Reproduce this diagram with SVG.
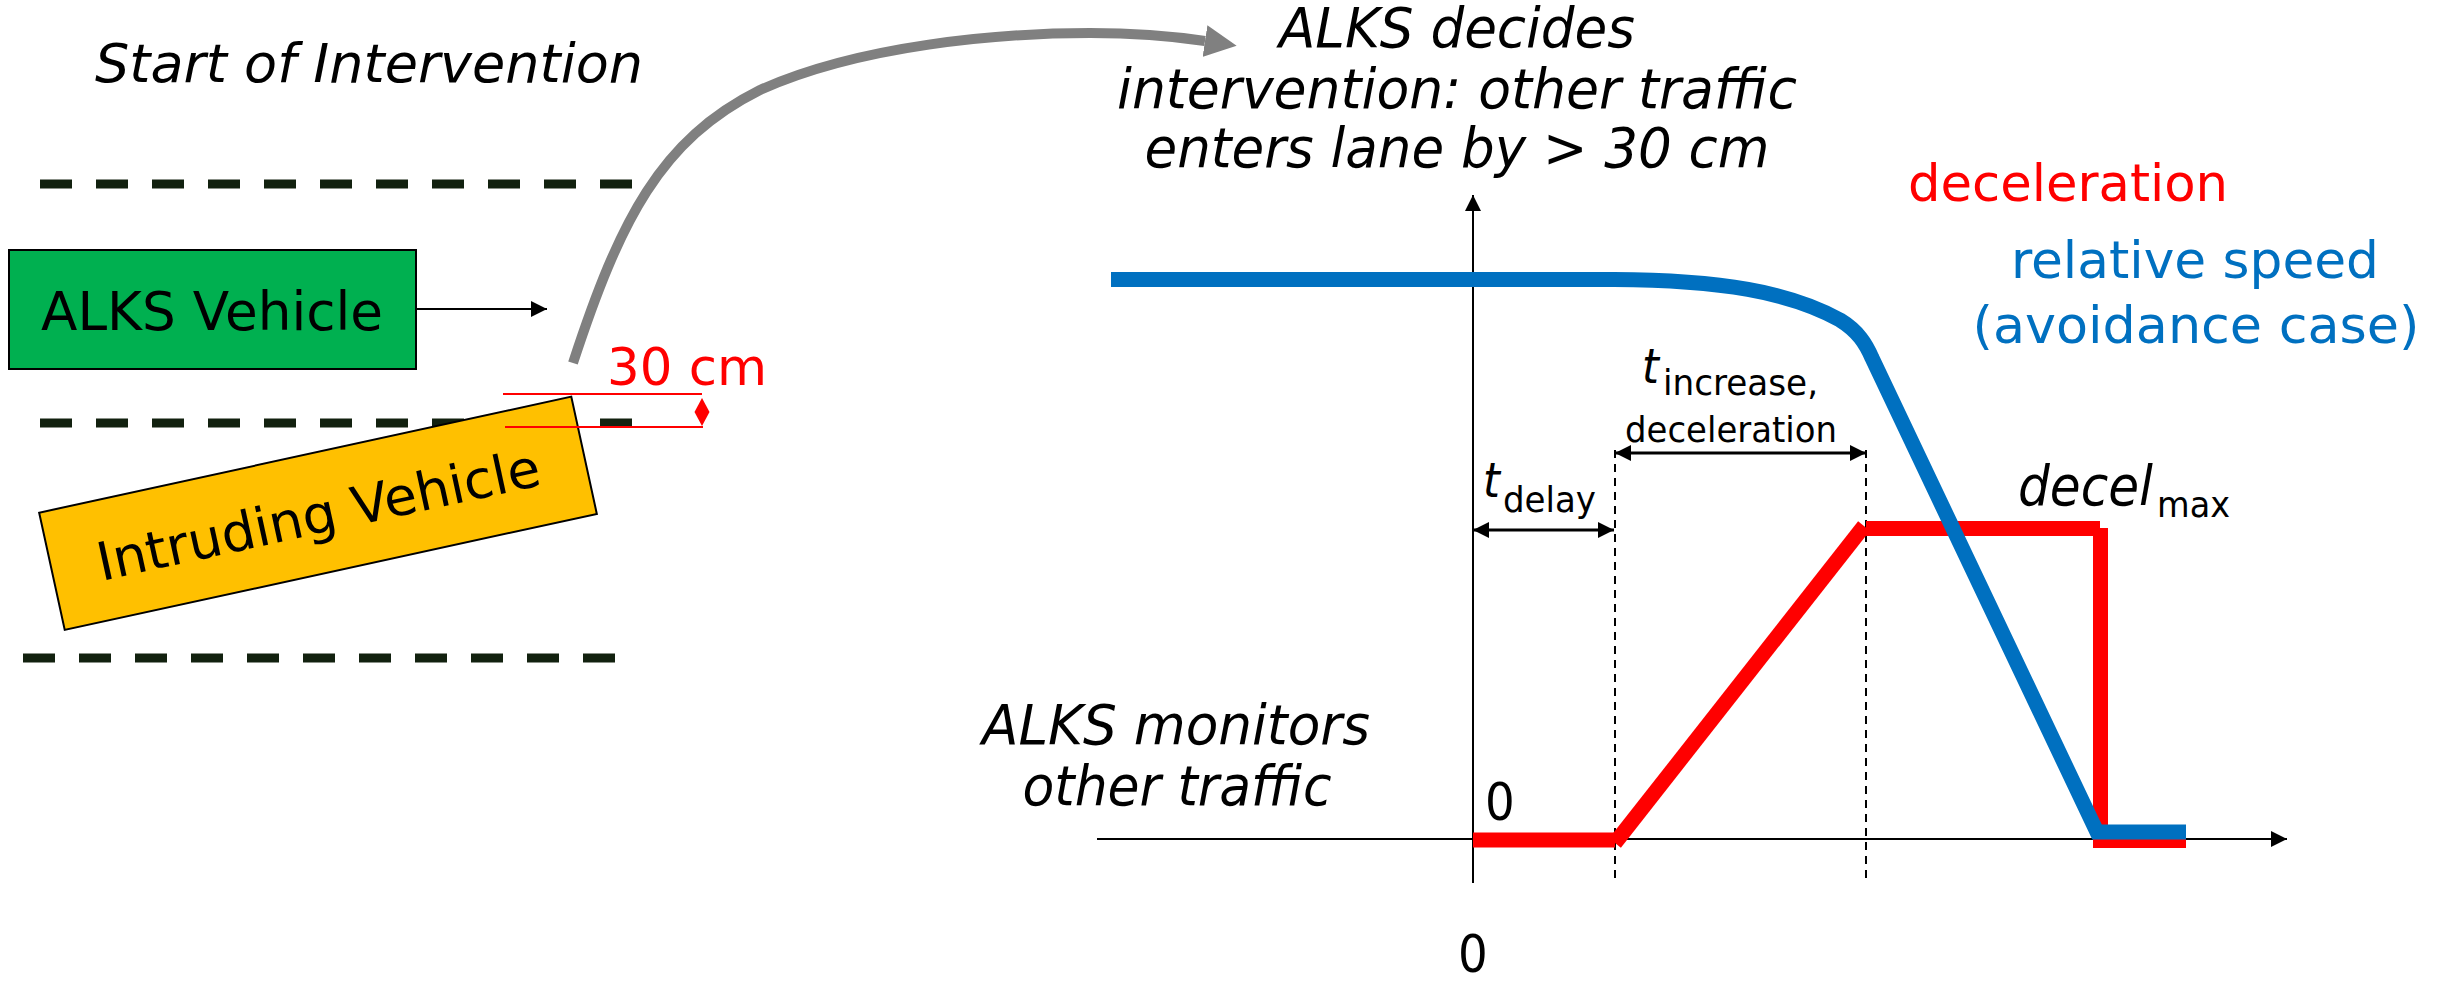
<svg xmlns="http://www.w3.org/2000/svg" width="2448" height="984" viewBox="0 0 2448 984">
  <style>
    text { font-family: "DejaVu Sans", Verdana, sans-serif; fill: #000; }
    .cond { font-family: "DejaVu Sans Condensed", "DejaVu Sans", sans-serif; font-stretch: condensed; }
    .it { font-style: italic; }
    .lane { stroke: #12210f; stroke-width: 9; stroke-dasharray: 32 24; fill: none; }
    .axis { stroke: #000; stroke-width: 2; fill: none; }
    .guide { stroke: #000; stroke-width: 2; stroke-dasharray: 8 6; fill: none; }
    .dec { stroke: #ff0000; stroke-width: 15; fill: none; }
    .spd { stroke: #0070c0; stroke-width: 15; fill: none; stroke-linejoin: miter; }
    .red { fill: #ff0000; }
    .blue { fill: #0070c0; }
  </style>
  <defs>
    <marker id="head" viewBox="0 0 16 16" refX="16" refY="8" markerWidth="16" markerHeight="16" markerUnits="userSpaceOnUse" orient="auto-start-reverse">
      <path d="M0,0 L16,8 L0,16 Z" fill="#000"/>
    </marker>
    <marker id="head-gray" viewBox="0 0 32 32" refX="0" refY="16" markerWidth="32" markerHeight="32" markerUnits="userSpaceOnUse" orient="auto">
      <path d="M0,0 L32,16 L0,32 Z" fill="#808080"/>
    </marker>
  </defs>
  <rect width="2448" height="984" fill="#fff"/>

  <!-- road scene -->
  <g id="title-start">
    <text class="it" x="95" y="82" font-size="54" textLength="548" lengthAdjust="spacingAndGlyphs">Start of Intervention</text>
  </g>
  <g id="lane-markings">
    <line class="lane" x1="40" y1="184" x2="632" y2="184"/>
    <line class="lane" x1="40" y1="423" x2="632" y2="423"/>
    <line class="lane" x1="23" y1="658" x2="615" y2="658"/>
  </g>
  <g id="alks-vehicle">
    <rect x="9" y="250" width="407" height="119" fill="#00b050" stroke="#000" stroke-width="2"/>
    <text x="41" y="330" font-size="53" textLength="342" lengthAdjust="spacingAndGlyphs">ALKS Vehicle</text>
  </g>
  <g id="intruding-vehicle" transform="translate(318,513.3) rotate(-12.3)">
    <rect x="-272.3" y="-60" width="544.6" height="120" fill="#ffc000" stroke="#000" stroke-width="2"/>
    <text x="0" y="20" font-size="53" text-anchor="middle" textLength="452" lengthAdjust="spacingAndGlyphs">Intruding Vehicle</text>
  </g>
  <g id="gap-marker">
    <line x1="503" y1="394" x2="702" y2="394" stroke="#ff0000" stroke-width="2"/>
    <line x1="505" y1="427" x2="703" y2="427" stroke="#ff0000" stroke-width="2"/>
    <polygon points="702,398 709.5,412 702,426 694.5,412" fill="#ff0000"/>
    <text class="red" x="607" y="385" font-size="52" textLength="160" lengthAdjust="spacingAndGlyphs">30 cm</text>
  </g>

  <!-- connectors -->
  <g id="connectors">
    <line x1="416" y1="309" x2="547" y2="309" stroke="#000" stroke-width="2" marker-end="url(#head)"/>
    <path d="M573,363 C620,220 660,140 760,90 C860,45 1000,33 1090,33 C1150,33 1185,38 1205,41" fill="none" stroke="#808080" stroke-width="10" marker-end="url(#head-gray)"/>
  </g>

  <!-- timing chart -->
  <g id="decision-label" class="cond it">
    <text x="1457" y="47" font-size="55" text-anchor="middle" textLength="356" lengthAdjust="spacingAndGlyphs">ALKS decides</text>
    <text x="1457" y="108" font-size="55" text-anchor="middle" textLength="680" lengthAdjust="spacingAndGlyphs">intervention: other traffic</text>
    <text x="1457" y="167" font-size="55" text-anchor="middle" textLength="625" lengthAdjust="spacingAndGlyphs">enters lane by &gt; 30 cm</text>
  </g>
  <g id="monitor-label" class="cond it">
    <text x="1176" y="744" font-size="55" text-anchor="middle" textLength="388" lengthAdjust="spacingAndGlyphs">ALKS monitors</text>
    <text x="1177" y="805" font-size="55" text-anchor="middle" textLength="309" lengthAdjust="spacingAndGlyphs">other traffic</text>
  </g>
  <g id="legend" class="cond">
    <text class="red" x="1908" y="201" font-size="52" textLength="320" lengthAdjust="spacingAndGlyphs">deceleration</text>
    <text class="blue" x="2195" y="278" font-size="52" text-anchor="middle" textLength="368" lengthAdjust="spacingAndGlyphs">relative speed</text>
    <text class="blue" x="2196" y="343" font-size="52" text-anchor="middle" textLength="447" lengthAdjust="spacingAndGlyphs">(avoidance case)</text>
  </g>

  <g id="axes">
    <line class="axis" x1="1097" y1="839" x2="2287" y2="839" marker-end="url(#head)"/>
    <line class="axis" x1="1473" y1="883" x2="1473" y2="195" marker-end="url(#head)"/>
    <text class="cond" x="1485" y="820" font-size="52">0</text>
    <text class="cond" x="1473" y="972" font-size="52" text-anchor="middle">0</text>
  </g>

  <g id="timing-guides">
    <line class="guide" x1="1615" y1="450" x2="1615" y2="883"/>
    <line class="guide" x1="1866" y1="450" x2="1866" y2="883"/>
    <line x1="1473" y1="530" x2="1614" y2="530" stroke="#000" stroke-width="3" marker-start="url(#head)" marker-end="url(#head)"/>
    <line x1="1615" y1="453" x2="1866" y2="453" stroke="#000" stroke-width="3" marker-start="url(#head)" marker-end="url(#head)"/>
  </g>

  <g id="t-delay" class="cond">
    <text class="it" x="1483" y="497" font-size="48">t</text>
    <text x="1503" y="512" font-size="35" textLength="93" lengthAdjust="spacingAndGlyphs">delay</text>
  </g>
  <g id="t-increase" class="cond">
    <text class="it" x="1642" y="383" font-size="48">t</text>
    <text x="1663" y="395" font-size="35" textLength="155" lengthAdjust="spacingAndGlyphs">increase,</text>
    <text x="1625" y="442" font-size="35" textLength="212" lengthAdjust="spacingAndGlyphs">deceleration</text>
  </g>
  <g id="decel-max" class="cond">
    <text class="it" x="2018" y="505" font-size="55" textLength="135" lengthAdjust="spacingAndGlyphs">decel</text>
    <text x="2157" y="517" font-size="36" textLength="73" lengthAdjust="spacingAndGlyphs">max</text>
  </g>

  <g id="deceleration-curve">
    <line class="dec" x1="1473" y1="840" x2="1615" y2="840" stroke-width="16"/>
    <line class="dec" x1="1615" y1="843" x2="1864" y2="526"/>
    <line class="dec" x1="1866" y1="528.5" x2="2100" y2="528.5"/>
    <line class="dec" x1="2100.5" y1="528" x2="2100.5" y2="848"/>
    <line class="dec" x1="2100" y1="840.5" x2="2186" y2="840.5"/>
  </g>
  <g id="relative-speed-curve">
    <path class="spd" d="M1111,279.5 H1614 C1720,280 1790,292 1840,320 C1858,331 1866,344 1872,358 L2097,832 H2186"/>
  </g>
</svg>
